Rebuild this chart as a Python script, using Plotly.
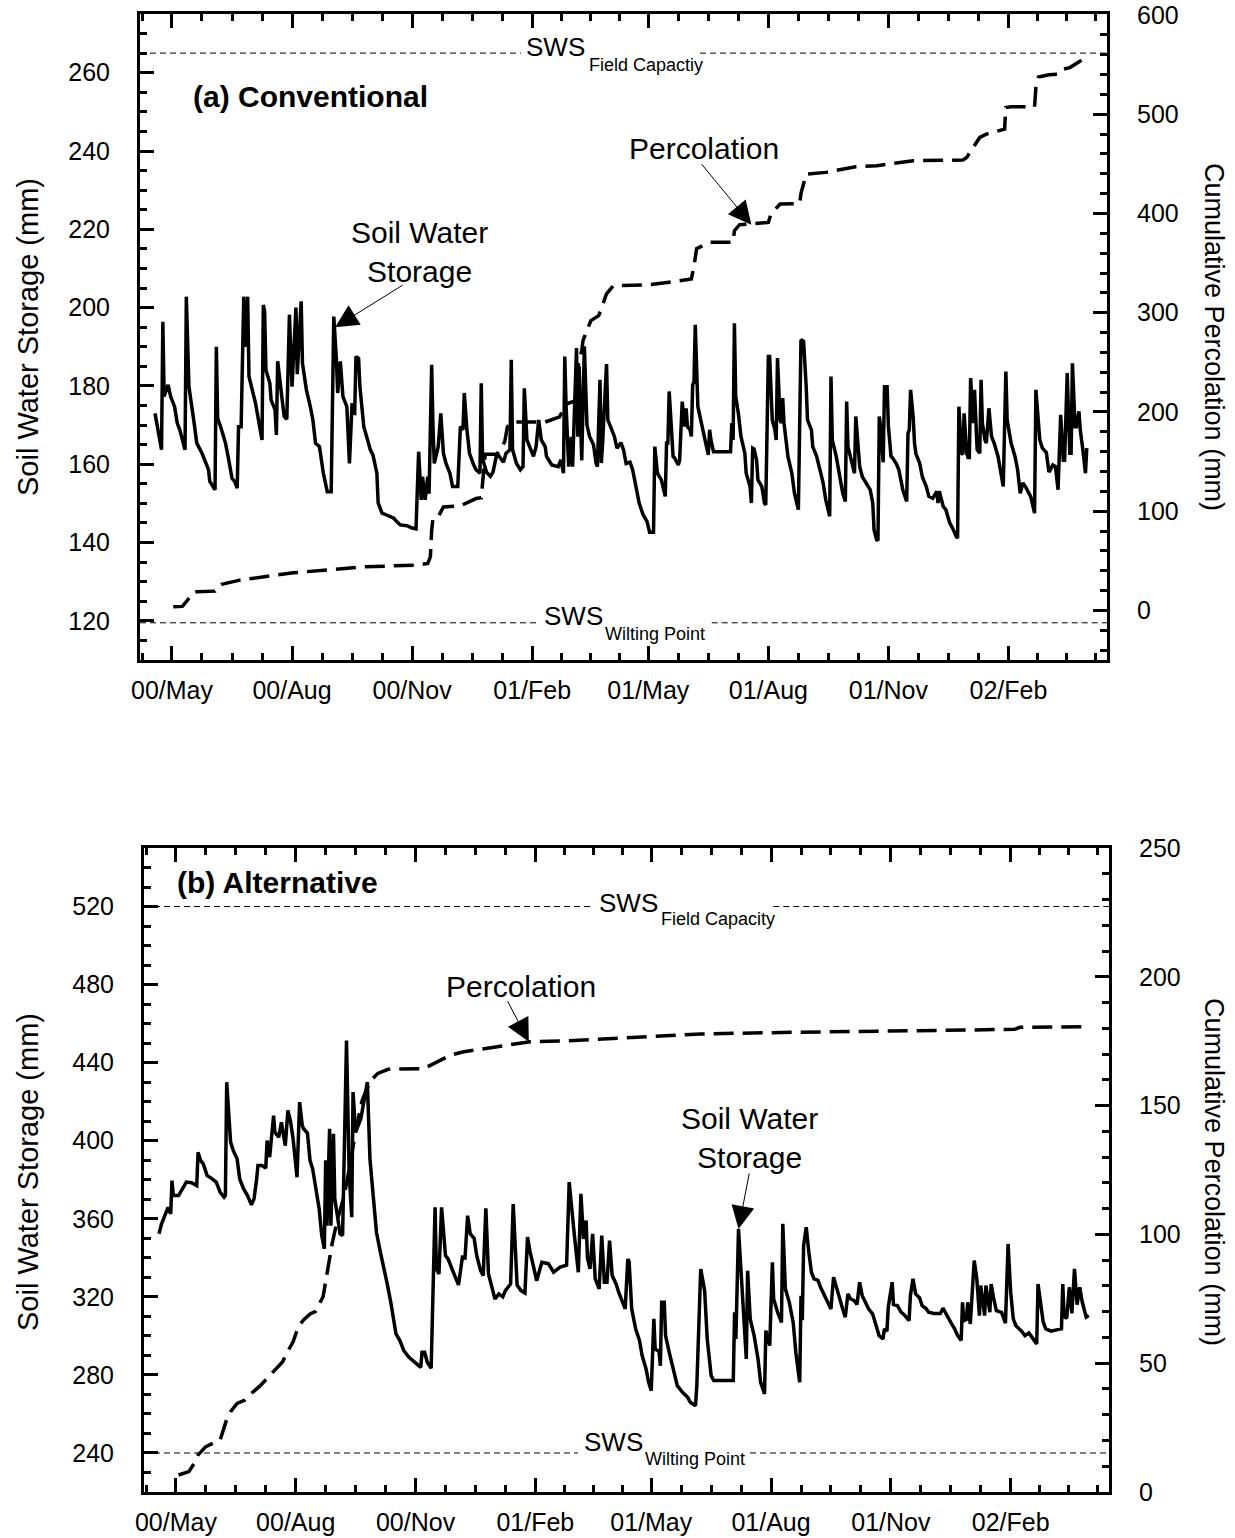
import pandas as pd
import plotly.graph_objects as go

W, H = 1235, 1538
FONT = "Liberation Sans, Arial, sans-serif"
ORIGIN = pd.Timestamp("2000-05-01")

# ---------------------------------------------------------------------------
# Daily records, days counted from 1 May 2000
# ---------------------------------------------------------------------------
# (a) Conventional - soil water storage (mm)
conv_sws_day = [
    -13, -8, -7, -6, -3, -1, 2, 4, 6, 9, 10, 11, 13, 17, 19, 23, 28, 29, 33, 34,
    35, 38, 41, 43, 46, 48, 50, 51, 53, 55, 56, 58, 59, 64, 69, 70, 71, 72, 75, 76,
    79, 80, 81, 84, 86, 88, 90, 92, 95, 96, 99, 100, 103, 106, 108, 110, 113, 116, 119, 122,
    124, 126, 127, 129, 131, 134, 136, 138, 139, 140, 141, 143, 144, 147, 149, 152, 154, 157, 158, 161,
    164, 170, 172, 175, 180, 184, 187, 189, 191, 192, 194, 196, 197, 199, 200, 201, 204, 206, 208, 210,
    213, 215, 219, 221, 223, 224, 226, 228, 231, 233, 236, 237, 238, 241, 244, 246, 249, 251, 254, 256,
    259, 260, 261, 264, 267, 269, 270, 272, 274, 277, 279, 281, 283, 286, 287, 291, 296, 298, 300, 301,
    302, 304, 306, 307, 310, 311, 312, 314, 316, 318, 320, 323, 325, 326, 328, 329, 330, 332, 333, 334,
    337, 339, 341, 344, 346, 348, 351, 353, 356, 358, 361, 364, 366, 369, 370, 372, 375, 378, 379, 380,
    381, 383, 384, 385, 388, 389, 391, 393, 394, 395, 397, 398, 399, 400, 401, 403, 406, 407, 409, 411,
    412, 413, 415, 428, 429, 430, 431, 432, 434, 436, 439, 440, 443, 444, 445, 446, 448, 449, 452, 454,
    455, 457, 458, 460, 462, 463, 464, 466, 467, 468, 469, 472, 475, 477, 480, 482, 484, 486, 487, 490,
    491, 494, 496, 499, 501, 504, 505, 506, 509, 512, 514, 516, 517, 518, 521, 523, 524, 526, 527, 529,
    532, 535, 537, 538, 540, 541, 542, 543, 545, 546, 548, 549, 551, 552, 555, 557, 560, 563, 564, 565,
    566, 568, 569, 570, 573, 575, 578, 580, 583, 586, 587, 588, 591, 593, 596, 598, 601, 602, 603, 605,
    606, 607, 609, 610, 611, 612, 614, 615, 617, 619, 620, 621, 623, 624, 625, 626, 628, 630, 633, 635,
    637, 639, 640, 643, 646, 648, 650, 652, 654, 656, 658, 661, 662, 665, 667, 670, 671, 672, 675, 677,
    679, 681, 683, 684, 686, 688, 689, 690, 692, 693, 695, 696, 698, 700, 701,
]
conv_sws_mm = [
    173, 163.7, 196.4, 177.3, 180.3, 177.3, 174.7, 170.6, 168.8, 165.4, 163.7, 202.8, 179.8, 170.5, 165.4, 162.8, 158.6, 155.6, 153.5, 190,
    171.8, 168.8, 165.4, 162, 156.4, 155.6, 153.9, 169.6, 169.6, 202.8, 190, 202.8, 182.4, 175.6, 166.2, 200.7, 199, 184.1, 180.7, 176.4,
    173.9, 167.5, 186.3, 177.7, 172.2, 171.5, 198.2, 179.8, 200, 183, 201.6, 185.8, 179, 174.7, 171.3, 165.4, 164.5, 157.7, 153, 153,
    197.7, 186.7, 178.2, 186.3, 177.3, 174.7, 160.2, 175.6, 173.1, 173, 187.5, 187, 179.8, 169.6, 167.1, 163.7, 162.4, 157.7, 150.1, 147.5,
    147.1, 146.2, 145.4, 144.5, 144.3, 143.7, 143.5, 163.2, 150.9, 156.8, 150.9, 156.8, 152.5, 185.4, 169.6, 160.2, 164.5, 173, 162.8, 160.2,
    157.7, 154.3, 154.3, 169.6, 168.8, 178.2, 168.8, 162.8, 160, 158.6, 157.7, 180.7, 161.4, 158, 156.9, 158, 162.8, 162, 160.5, 162.8,
    163.7, 186.7, 163.7, 160.2, 158.6, 159.4, 179.4, 166.2, 164.5, 162, 164.5, 171.3, 166.2, 164.5, 162, 159.8, 159.4, 161.1, 157.7, 187.5,
    175, 159.4, 167, 159.4, 189.7, 167, 185, 161, 190.1, 170, 167.1, 165, 160.2, 159.4, 181.6, 160.3, 165.4, 180.7, 185.6, 171.3,
    168.8, 167.1, 164.1, 165.5, 163.7, 160.2, 160.5, 158.6, 153.5, 150.1, 147.1, 145.4, 142.6, 142.6, 164.5, 157.7, 156, 151.8, 165.4, 165.4,
    178.6, 166.2, 162, 161.7, 159.8, 161, 176, 169.6, 174.3, 169.6, 168.8, 167.1, 180.3, 181, 195.6, 174.7, 170.5, 168.8, 165.4, 162.4,
    168.8, 166.2, 163.2, 163.2, 170.5, 166.2, 196, 177.3, 173, 167.1, 162.8, 157.7, 154.3, 150.1, 164.1, 163.9, 161.1, 156, 154.3, 150.1,
    149.6, 187.5, 187.5, 171.3, 168.8, 166.2, 187.1, 171.3, 170.5, 176.9, 170.5, 162, 157.7, 152.6, 148.4, 191.8, 191.4, 179.8, 171.3, 168.8,
    164.5, 162, 159.4, 155.2, 150.9, 146.7, 182.4, 166.2, 162, 156, 152.6, 150.5, 176, 164.5, 160.7, 157.7, 172.2, 163, 159.4, 156.8,
    155.2, 153.5, 150.1, 143.2, 140.7, 140.5, 172.2, 169.6, 160.5, 179.8, 179.8, 169.6, 162, 161.7, 160.2, 158.6, 153.5, 150.5, 167.9, 168.8,
    179, 172, 165.4, 162.8, 160.2, 156.8, 154.3, 151.8, 151.3, 153.1, 150.1, 153.1, 149.2, 148.4, 145, 143.8, 141.5, 141.1, 174.7, 162.8,
    162.5, 173, 162.8, 161.7, 161.7, 182, 170.5, 179, 163.7, 162.8, 181.6, 170.5, 166.2, 165.4, 169.6, 174.3, 167.1, 165.4, 162, 158.6,
    154.3, 183.7, 171.3, 165.4, 162, 158.6, 152.6, 155.2, 154.3, 153, 151.8, 147.5, 179, 166.2, 164.1, 163, 160.2, 158, 159.8, 159.4,
    153.5, 172.6, 161, 161, 183.3, 162.8, 162.8, 185.8, 169.6, 169.6, 173.5, 168.8, 163.7, 157.7, 164.1,
]
# (a) Conventional - cumulative percolation (mm)
conv_perc_day = [
    1, 8, 12, 15, 19, 33, 35, 38, 52, 93, 147, 187, 196, 198, 199, 200, 204, 208, 221, 233,
    237, 238, 239, 240, 249, 255, 257, 261, 286, 297, 302, 310, 311, 314, 315, 321, 327, 333, 338, 367,
    381, 398, 400, 402, 412, 430, 431, 435, 444, 457, 459, 466, 481, 482, 486, 501, 524, 540, 568, 606,
    609, 614, 619, 624, 638, 639, 643, 661, 662, 664, 672, 679, 683, 688, 697,
]
conv_perc_mm = [
    3.6, 4, 10.4, 17.1, 18.8, 19.4, 23.8, 26.2, 30.5, 37.9, 43.9, 45.6, 47.3, 53.9, 80.8, 92.6, 94.3, 104.3, 105.3, 112.7,
    113.6, 127.8, 150, 157.3, 157.3, 170, 185, 189.8, 189.8, 195, 208, 211.6, 245, 262, 272, 292, 297, 319, 327, 328.3,
    330.7, 334, 346.7, 364.4, 371, 371, 382.7, 388.7, 389.4, 391, 399.4, 409.5, 410, 420.2, 439.7, 441.4, 447.1, 448.1, 453.1, 453.8,
    456.5, 466.5, 476.6, 480, 485, 506.8, 507.5, 507.5, 526.9, 537.6, 539.7, 540.3, 545.4, 547, 554.3,
]

# (b) Alternative - soil water storage (mm)
alt_sws_day = [
    -13, -11, -8, -6, -4, -3, -2, 2, 5, 8, 12, 15, 16, 17, 19, 21, 24, 26, 31, 34,
    37, 38, 39, 42, 44, 47, 49, 52, 55, 58, 60, 62, 63, 66, 69, 70, 72, 75, 76, 79,
    81, 84, 86, 88, 90, 93, 94, 95, 97, 98, 101, 103, 105, 107, 110, 112, 114, 115, 116, 118,
    119, 121, 122, 124, 126, 128, 129, 131, 133, 135, 136, 138, 142, 144, 147, 149, 152, 154, 157, 160,
    162, 165, 167, 169, 172, 175, 179, 183, 188, 189, 191, 193, 196, 199, 200, 202, 204, 207, 209, 212,
    215, 217, 220, 222, 224, 226, 229, 231, 234, 236, 238, 240, 243, 245, 248, 251, 253, 257, 259, 262,
    265, 268, 270, 272, 275, 277, 281, 286, 290, 295, 300, 302, 306, 309, 311, 313, 315, 316, 318, 320,
    322, 325, 327, 329, 331, 333, 335, 338, 340, 343, 345, 347, 348, 350, 353, 356, 358, 361, 363, 365,
    367, 368, 371, 372, 373, 375, 376, 379, 380, 382, 385, 389, 393, 395, 399, 400, 402, 403, 406, 408,
    411, 413, 428, 429, 430, 432, 434, 436, 438, 439, 441, 444, 447, 449, 452, 453, 456, 458, 459, 462,
    465, 466, 468, 471, 474, 476, 479, 480, 481, 482, 484, 486, 488, 490, 493, 495, 498, 500, 503, 505,
    507, 509, 512, 514, 516, 518, 521, 523, 525, 527, 530, 532, 535, 537, 540, 543, 544, 546, 547, 550,
    551, 554, 557, 559, 563, 564, 566, 568, 571, 573, 576, 578, 582, 587, 589, 590, 593, 595, 598, 600,
    603, 604, 605, 607, 608, 610, 613, 615, 617, 618, 621, 622, 625, 626, 628, 630, 634, 636, 637, 639,
    641, 643, 645, 649, 652, 655, 658, 661, 662, 666, 668, 672, 677, 680, 681, 682, 684, 686, 688, 690,
    692, 694, 696, 699, 701,
]
alt_sws_mm = [
    352.3, 357.4, 362.5, 365.9, 362.5, 379.6, 371.9, 371.9, 375.3, 378.8, 378.5, 377, 377, 394.1, 389.8, 388.1, 382.1, 381.3, 378.8, 373.6,
    371.1, 372, 430, 399.3, 395, 390.7, 380.4, 375.3, 371.9, 367.1, 370.2, 380.4, 387.3, 387.3, 386, 400.1, 391.6, 412.9, 404.4, 401.8,
    409.5, 397.5, 415.5, 410, 400.9, 381.3, 406.1, 419.8, 408, 406.1, 404, 389.8, 385.6, 377, 365.1, 351.4, 344.6, 390, 356.5, 406.1,
    356.5, 403.5, 370.2, 361.6, 352.3, 351.4, 387.3, 451.3, 383.9, 360.8, 424.9, 404.4, 411.2, 418, 430, 390.7, 370.2, 353.1, 342.9, 334.3,
    327.5, 317.2, 308.7, 301, 297.6, 292.4, 289, 286.5, 283.9, 291.6, 291.6, 286.5, 283.4, 365.9, 334.3, 331.7, 365.9, 341.1, 339.4, 334.3,
    329.2, 326.1, 340.3, 340, 361.6, 352.3, 350, 341.1, 333.4, 330.9, 365.4, 331.7, 324.1, 318.9, 321.5, 320, 323.2, 326.6, 367.6, 326,
    323.2, 322, 350.6, 342.9, 334.3, 328.3, 337.7, 337, 332.6, 335.2, 336.2, 378.8, 351.4, 332.6, 372.8, 349.7, 359.1, 340, 334.3, 352.3,
    329.2, 324.1, 351.4, 327.5, 327.5, 348.8, 330.9, 326.6, 322.4, 316.4, 313.8, 339.4, 338, 313.8, 303.6, 297.6, 289.9, 283.1, 276.2, 271.9,
    308.7, 293.3, 292, 284.7, 317.2, 317.2, 300.1, 291, 288.2, 281, 274.5, 271.1, 268.5, 266, 264.2, 274.5, 310.4, 334.3, 323.2, 298.4,
    279.6, 277.1, 277.1, 312.1, 298.4, 354.8, 332.6, 310.4, 288.2, 333.4, 308.7, 300.1, 288.2, 276.2, 270.2, 302.7, 295, 337.7, 318.9, 312.1,
    306.9, 357.4, 324.1, 317.2, 306.9, 291.6, 276.2, 320.6, 308, 346.3, 355.7, 342.9, 332.6, 329.2, 328.5, 324.9, 320.6, 317.2, 313.8, 330.1,
    325, 320, 313.8, 309.6, 321.5, 319, 318, 316, 327.5, 320.6, 316.4, 313.8, 311.2, 306.9, 300.1, 298.4, 303.6, 302.4, 314.7, 327.5,
    316, 315.5, 312.1, 311, 307.8, 320.6, 329.2, 321.5, 319.5, 315.5, 314, 312.1, 311.5, 311.5, 314.2, 313, 309, 306.9, 303.6, 300.5,
    297.6, 317.2, 307.8, 308.5, 317.2, 306.1, 338.6, 329.2, 310.4, 325.8, 310.4, 325.8, 312.1, 326.6, 318.9, 312.9, 312, 308.7, 306.5, 347.1,
    322.4, 308.7, 305.2, 302.7, 300.1, 301.5, 299, 295.9, 326.6, 307, 303.6, 302.4, 303.2, 303.6, 326.6, 310, 309, 324.9, 311.5, 334.3,
    316, 324.9, 317.2, 309.6, 310.4,
]
# (b) Alternative - cumulative percolation (mm)
alt_perc_day = [
    2, 10, 14, 17, 23, 29, 34, 39, 42, 47, 53, 58, 64, 70, 82, 85, 90, 94, 98, 103,
    107, 113, 116, 120, 124, 129, 133, 138, 143, 149, 155, 163, 190, 203, 211, 221, 243, 257, 272, 298,
    324, 349, 403, 454, 505, 557, 608, 644, 648, 700,
]
alt_perc_mm = [
    6.6, 7.9, 11.1, 14.4, 17.6, 19.1, 20.2, 28.2, 31.2, 34.4, 35.7, 38.3, 40.9, 44.1, 50.6, 53.8, 58.3, 64.2, 66.8, 69.1,
    70, 75.8, 84.9, 96.5, 105.6, 114.6, 125, 140, 152, 159.3, 162.5, 164.1, 164.3, 167.7, 169.6, 170.9, 172.6, 173.9, 174.8, 175.1,
    175.7, 176.5, 177.8, 178.3, 178.7, 179.1, 179.3, 179.6, 180.4, 180.6,
]

# Soil water storage limits (mm)
conv_field_capacity, conv_wilting_point = 265, 119.5
alt_field_capacity, alt_wilting_point = 520, 240

# Date axis: labelled every three months, three minor ticks between labels
major_ticks = pd.date_range("2000-05-01", "2002-02-01", freq="3MS")
quarter_edges = pd.date_range("2000-02-01", "2002-05-01", freq="3MS")
minor_ticks = []
for a, b in zip(quarter_edges[:-1], quarter_edges[1:]):
    for k in (1, 2, 3):
        minor_ticks.append(a + (b - a) * k / 4)
X_RANGE = ["2000-04-06 12:00", "2002-04-17 12:00"]


def to_dates(days):
    return [(ORIGIN + pd.Timedelta(days=d)).strftime("%Y-%m-%d") for d in days]


def day(d):
    return (ORIGIN + pd.Timedelta(days=d)).strftime("%Y-%m-%d")


def px(x):
    return x / W


def py(y):
    return 1 - y / H


TICK_FONT = dict(family=FONT, size=25, color="black")
LINE_W = 3
SERIES_W = 3.5


def x_axis(domain, anchor):
    return dict(
        domain=domain, anchor=anchor, type="date", range=X_RANGE, automargin=False,
        tickmode="array", tickvals=list(major_ticks), tickformat="%y/%b",
        ticks="inside", ticklen=14, tickwidth=2.5, tickcolor="black",
        showline=True, linewidth=LINE_W, linecolor="black", mirror="ticks",
        showgrid=False, zeroline=False, tickfont=TICK_FONT, ticklabelstandoff=6,
        minor=dict(tickmode="array", tickvals=minor_ticks, ticks="inside",
                   ticklen=7, tickwidth=2.5, tickcolor="black", showgrid=False),
    )


def y_axis(domain, anchor, rng, dtick, minor_dtick, side="left", overlaying=None):
    ax = dict(
        domain=domain, anchor=anchor, range=rng, automargin=False,
        tickmode="linear", tick0=0, dtick=dtick,
        ticks="inside", ticklen=14, tickwidth=2.5, tickcolor="black",
        showline=True, linewidth=LINE_W, linecolor="black", mirror=False,
        showgrid=False, zeroline=False, tickfont=TICK_FONT, ticklabelstandoff=22,
        side=side,
        minor=dict(tick0=0, dtick=minor_dtick, ticks="inside", ticklen=7,
                   tickwidth=2.5, tickcolor="black", showgrid=False),
    )
    if overlaying:
        ax["overlaying"] = overlaying
    return ax


top_x = [140 / W, 1107 / W]
bot_x = [144 / W, 1109 / W]
top_y = [py(660), py(14)]
bot_y = [py(1492), py(848)]

fig = go.Figure()

# Panel (a)
fig.add_trace(go.Scatter(x=to_dates(conv_sws_day), y=conv_sws_mm, mode="lines",
                         line=dict(color="black", width=SERIES_W), xaxis="x", yaxis="y",
                         name="Soil Water Storage"))
fig.add_trace(go.Scatter(x=to_dates(conv_perc_day), y=conv_perc_mm, mode="lines",
                         line=dict(color="black", width=SERIES_W, dash="20px,9px"),
                         xaxis="x", yaxis="y2", name="Percolation"))
# Panel (b)
fig.add_trace(go.Scatter(x=to_dates(alt_sws_day), y=alt_sws_mm, mode="lines",
                         line=dict(color="black", width=SERIES_W), xaxis="x2", yaxis="y3",
                         name="Soil Water Storage"))
fig.add_trace(go.Scatter(x=to_dates(alt_perc_day), y=alt_perc_mm, mode="lines",
                         line=dict(color="black", width=SERIES_W, dash="20px,9px"),
                         xaxis="x2", yaxis="y4", name="Percolation"))

# Field capacity / wilting point reference lines, broken around their labels
ref_lines = [
    ("x", "y", conv_field_capacity, (0, 0.394), (0.5791, 1)),
    ("x", "y", conv_wilting_point, (0, 0.4137), (0.5912, 1)),
    ("x2", "y3", alt_field_capacity, (0, 0.4653), (0.6521, 1)),
    ("x2", "y3", alt_wilting_point, (0, 0.4497), (0.628, 1)),
]
shapes = []
for xr, yr, val, left, right in ref_lines:
    for x0, x1 in (left, right):
        shapes.append(dict(type="line", xref=f"{xr} domain", yref=yr, x0=x0, x1=x1,
                           y0=val, y1=val, line=dict(color="black", width=1, dash="6px,4px")))

annotations = []


def sws_label(xr, yr, val, x_sws, x_sub, dy_sws, dy_sub, sub):
    annotations.append(dict(text="SWS", xref=f"{xr} domain", yref=yr, x=x_sws, y=val,
                            xanchor="left", yanchor="middle", yshift=dy_sws, showarrow=False,
                            font=dict(family=FONT, size=26, color="black")))
    annotations.append(dict(text=sub, xref=f"{xr} domain", yref=yr, x=x_sub, y=val,
                            xanchor="left", yanchor="middle", yshift=dy_sub, showarrow=False,
                            font=dict(family=FONT, size=18, color="black")))


sws_label("x", "y", conv_field_capacity, 0.3974, 0.4619, 6, -12, "Field Capactiy")
sws_label("x", "y", conv_wilting_point, 0.4160, 0.4793, 7, -11, "Wilting Point")
sws_label("x2", "y3", alt_field_capacity, 0.4691, 0.5340, 4, -12, "Field Capacity")
sws_label("x2", "y3", alt_wilting_point, 0.4536, 0.5174, 11, -6, "Wilting Point")

LABEL_FONT = dict(family=FONT, size=30, color="black")
for text, cx, cy in [("Soil Water<br>Storage", 419, 252), ("Percolation", 704, 148),
                     ("Percolation", 521, 986), ("Soil Water<br>Storage", 749, 1138)]:
    annotations.append(dict(text=text, xref="paper", yref="paper", x=px(cx), y=py(cy),
                            xanchor="center", yanchor="middle", showarrow=False,
                            font=LABEL_FONT))

# Arrows pointing to the series
for xr, yr, d, v, ax, ay in [("x", "y", 125, 195, 69, -43),
                             ("x", "y2", 444, 388.7, -51, -62),
                             ("x2", "y4", 271, 174.8, -22, -42),
                             ("x2", "y3", 432, 354.8, 11, -57)]:
    annotations.append(dict(text="", xref=xr, yref=yr, x=day(d), y=v, ax=ax, ay=ay,
                            showarrow=True, arrowhead=2, arrowsize=4.6, arrowwidth=1,
                            arrowcolor="black"))

# Panel titles
annotations.append(dict(text="<b>(a) Conventional</b>", xref="paper", yref="paper",
                        x=px(191), y=py(97), xanchor="left", yanchor="middle",
                        showarrow=False, font=dict(family=FONT, size=30, color="black")))
annotations.append(dict(text="<b>(b) Alternative</b>", xref="paper", yref="paper",
                        x=px(175), y=py(882), xanchor="left", yanchor="middle",
                        showarrow=False, font=dict(family=FONT, size=30, color="black")))

# Axis titles
for cy in (337, 1172):
    annotations.append(dict(text="Soil Water Storage (mm)", xref="paper", yref="paper",
                            x=px(28), y=py(cy), textangle=-90, showarrow=False,
                            xanchor="center", yanchor="middle",
                            font=dict(family=FONT, size=29, color="black")))
    annotations.append(dict(text="Cumulative Percolation (mm)", xref="paper", yref="paper",
                            x=px(1214), y=py(cy), textangle=90, showarrow=False,
                            xanchor="center", yanchor="middle",
                            font=dict(family=FONT, size=27, color="black")))

fig.update_layout(
    width=W, height=H, margin=dict(l=0, r=0, t=0, b=0, autoexpand=False),
    paper_bgcolor="white", plot_bgcolor="white", showlegend=False,
    font=dict(family=FONT, color="black"),
    xaxis=x_axis(top_x, "y"),
    yaxis=y_axis(top_y, "x", [110, 275], 20, 5),
    yaxis2=y_axis(top_y, "x", [-50, 601], 100, 20, side="right", overlaying="y"),
    xaxis2=x_axis(bot_x, "y3"),
    yaxis3=y_axis(bot_y, "x2", [220, 550], 40, 10),
    yaxis4=y_axis(bot_y, "x2", [0, 250], 50, 10, side="right", overlaying="y3"),
    shapes=shapes, annotations=annotations,
)

fig.write_html("out.html")
